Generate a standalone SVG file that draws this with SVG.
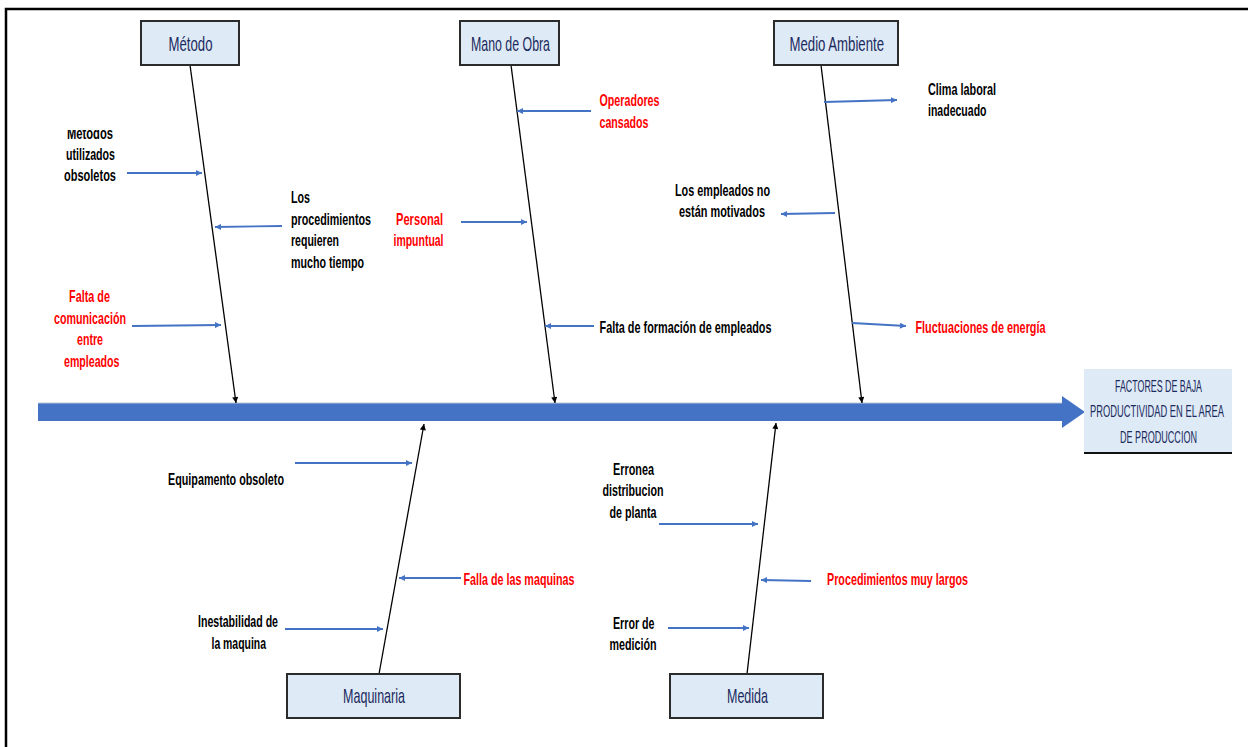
<svg xmlns="http://www.w3.org/2000/svg" width="1248" height="747" viewBox="0 0 1248 747">
<defs>
<style>
.cat{fill:#deeaf6;stroke:#2b2b2b;stroke-width:2}
.ct{font-family:"Liberation Sans Narrow","Liberation Sans",Arial,sans-serif;font-size:21px;fill:#1b2a5e}
.ef{font-family:"Liberation Sans Narrow","Liberation Sans",Arial,sans-serif;font-size:16px;fill:#1b2a5e}
.lb{font-family:"Liberation Sans Narrow","Liberation Sans",Arial,sans-serif;font-size:16.5px;font-weight:bold;fill:#000}
.rd{fill:#ff0000}
.bone{stroke:#000;stroke-width:1.3;fill:none;marker-end:url(#ab)}
.cause{stroke:#4472c4;stroke-width:1.8;fill:none;marker-end:url(#au)}
</style>
<marker id="ab" viewBox="0 0 10 10" refX="10" refY="5" markerWidth="8" markerHeight="6" markerUnits="userSpaceOnUse" orient="auto"><path d="M0,0 L10,5 L0,10 z" fill="#000"/></marker>
<marker id="au" viewBox="0 0 10 10" refX="10" refY="5" markerWidth="7" markerHeight="6" markerUnits="userSpaceOnUse" orient="auto"><path d="M0,0 L10,5 L0,10 z" fill="#4472c4"/></marker>
<clipPath id="clipM"><rect x="0" y="130" width="200" height="40"/></clipPath>
</defs>
<rect x="0" y="0" width="1248" height="747" fill="#fff"/>
<g id="frame" stroke="#000" stroke-width="2.5" fill="none">
<path d="M6,747 L6,9 L1248,9"/>
</g>
<g id="connectors">
<path d="M38,403 L1062,403 L1062,396 L1085,412 L1062,428 L1062,421 L38,421 z" fill="#4472c4"/>
<path d="M38,403 L1062,403" stroke="#b8c4d8" stroke-width="1" fill="none"/>
<path class="bone" d="M190,65 L236,403"/>
<path class="bone" d="M511,65 L555,403"/>
<path class="bone" d="M821,65 L862,403"/>
<path class="bone" d="M379,674 L424,424"/>
<path class="bone" d="M747,674 L776,423"/>
<path class="cause" d="M127,173 L202,173"/>
<path class="cause" d="M282,226 L215,227"/>
<path class="cause" d="M132,326 L221,325"/>
<path class="cause" d="M591,111 L517,111"/>
<path class="cause" d="M461,222 L527,222"/>
<path class="cause" d="M594,326 L545,326"/>
<path class="cause" d="M824,102 L897,100"/>
<path class="cause" d="M835,213 L781,214"/>
<path class="cause" d="M852,323 L906,326"/>
<path class="cause" d="M295,463 L412,463"/>
<path class="cause" d="M461,578 L399,578"/>
<path class="cause" d="M285,629 L383,629"/>
<path class="cause" d="M659,524 L758,524"/>
<path class="cause" d="M811,581 L761,580"/>
<path class="cause" d="M668,628 L749,628"/>
</g>
<g id="effect">
<rect x="1084" y="369" width="148" height="84" fill="#deeaf6"/>
<path d="M1084,453 L1232,453" stroke="#111" stroke-width="2"/>
<text class="ef" x="1115" y="392" textLength="87" lengthAdjust="spacingAndGlyphs">FACTORES DE BAJA</text>
<text class="ef" x="1090" y="417" textLength="134" lengthAdjust="spacingAndGlyphs">PRODUCTIVIDAD EN EL AREA</text>
<text class="ef" x="1120" y="443" textLength="77" lengthAdjust="spacingAndGlyphs">DE PRODUCCION</text>
</g>
<g id="cat-metodo">
<rect class="cat" x="141" y="21" width="98" height="44"/>
<text class="ct" x="168.5" y="51" textLength="44" lengthAdjust="spacingAndGlyphs">Método</text>
</g>
<g id="cat-manodeobra">
<rect class="cat" x="460" y="21" width="99" height="44"/>
<text class="ct" x="471" y="51" textLength="79" lengthAdjust="spacingAndGlyphs">Mano de Obra</text>
</g>
<g id="cat-medioambiente">
<rect class="cat" x="774" y="21" width="124" height="44"/>
<text class="ct" x="789.5" y="51" textLength="94.5" lengthAdjust="spacingAndGlyphs">Medio Ambiente</text>
</g>
<g id="cat-maquinaria">
<rect class="cat" x="287" y="674" width="173" height="44"/>
<text class="ct" x="343" y="703" textLength="62" lengthAdjust="spacingAndGlyphs">Maquinaria</text>
</g>
<g id="cat-medida">
<rect class="cat" x="670" y="674" width="153" height="44"/>
<text class="ct" x="727" y="703" textLength="41" lengthAdjust="spacingAndGlyphs">Medida</text>
</g>
<g id="c-metodos-obsoletos" class="lb">
<text x="67" y="138.5" textLength="46" lengthAdjust="spacingAndGlyphs" clip-path="url(#clipM)">Métodos</text>
<text x="66" y="160" textLength="49" lengthAdjust="spacingAndGlyphs">utilizados</text>
<text x="64" y="181" textLength="52" lengthAdjust="spacingAndGlyphs">obsoletos</text>
</g>
<g id="c-procedimientos-tiempo" class="lb">
<text x="291" y="203" textLength="19" lengthAdjust="spacingAndGlyphs">Los</text>
<text x="291" y="224.5" textLength="80" lengthAdjust="spacingAndGlyphs">procedimientos</text>
<text x="291" y="246" textLength="48" lengthAdjust="spacingAndGlyphs">requieren</text>
<text x="291" y="267.5" textLength="73" lengthAdjust="spacingAndGlyphs">mucho tiempo</text>
</g>
<g id="c-falta-comunicacion" class="lb rd">
<text x="69" y="302" textLength="41" lengthAdjust="spacingAndGlyphs">Falta de</text>
<text x="54" y="323.5" textLength="72" lengthAdjust="spacingAndGlyphs">comunicación</text>
<text x="77" y="345" textLength="26" lengthAdjust="spacingAndGlyphs">entre</text>
<text x="64" y="366.5" textLength="55.5" lengthAdjust="spacingAndGlyphs">empleados</text>
</g>
<g id="c-operadores-cansados" class="lb rd">
<text x="599.5" y="106" textLength="60" lengthAdjust="spacingAndGlyphs">Operadores</text>
<text x="599.5" y="127.5" textLength="49" lengthAdjust="spacingAndGlyphs">cansados</text>
</g>
<g id="c-personal-impuntual" class="lb rd">
<text x="396" y="225" textLength="47" lengthAdjust="spacingAndGlyphs">Personal</text>
<text x="393.5" y="246" textLength="50" lengthAdjust="spacingAndGlyphs">impuntual</text>
</g>
<g id="c-falta-formacion" class="lb">
<text x="599.5" y="333" textLength="172" lengthAdjust="spacingAndGlyphs">Falta de formación de empleados</text>
</g>
<g id="c-clima-laboral" class="lb">
<text x="928" y="94.5" textLength="68" lengthAdjust="spacingAndGlyphs">Clima laboral</text>
<text x="928" y="115.5" textLength="58.5" lengthAdjust="spacingAndGlyphs">inadecuado</text>
</g>
<g id="c-empleados-motivados" class="lb">
<text x="675" y="196" textLength="95" lengthAdjust="spacingAndGlyphs">Los empleados no</text>
<text x="679" y="217" textLength="86" lengthAdjust="spacingAndGlyphs">están motivados</text>
</g>
<g id="c-fluctuaciones" class="lb rd">
<text x="915.5" y="333" textLength="130" lengthAdjust="spacingAndGlyphs">Fluctuaciones de energía</text>
</g>
<g id="c-equipamento" class="lb">
<text x="168" y="485" textLength="116" lengthAdjust="spacingAndGlyphs">Equipamento obsoleto</text>
</g>
<g id="c-falla-maquinas" class="lb rd">
<text x="463.5" y="585" textLength="111" lengthAdjust="spacingAndGlyphs">Falla de las maquinas</text>
</g>
<g id="c-inestabilidad" class="lb">
<text x="198" y="627" textLength="80" lengthAdjust="spacingAndGlyphs">Inestabilidad de</text>
<text x="211.5" y="648.5" textLength="54.5" lengthAdjust="spacingAndGlyphs">la maquina</text>
</g>
<g id="c-erronea-distribucion" class="lb">
<text x="613" y="474.5" textLength="41" lengthAdjust="spacingAndGlyphs">Erronea</text>
<text x="602.5" y="496" textLength="61" lengthAdjust="spacingAndGlyphs">distribucion</text>
<text x="609.5" y="517.5" textLength="47" lengthAdjust="spacingAndGlyphs">de planta</text>
</g>
<g id="c-procedimientos-largos" class="lb rd">
<text x="827" y="585" textLength="141" lengthAdjust="spacingAndGlyphs">Procedimientos muy largos</text>
</g>
<g id="c-error-medicion" class="lb">
<text x="613" y="628.5" textLength="41.5" lengthAdjust="spacingAndGlyphs">Error de</text>
<text x="609.5" y="650" textLength="47" lengthAdjust="spacingAndGlyphs">medición</text>
</g>
</svg>
